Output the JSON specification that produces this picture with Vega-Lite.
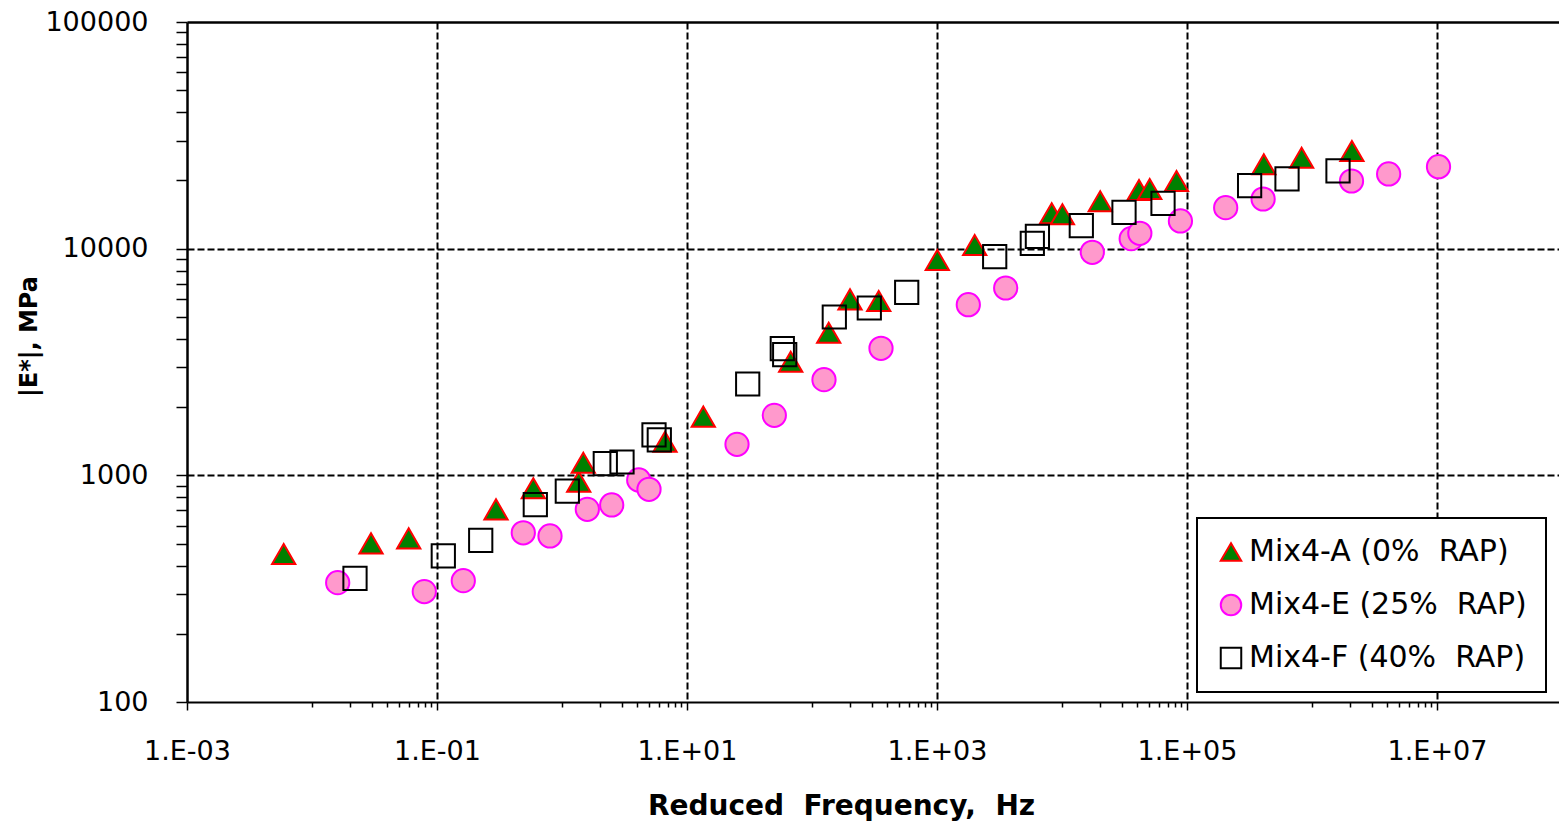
{
  "$schema": "https://vega.github.io/schema/vega-lite/v6.json",
  "autosize": {"type": "none"},
  "padding": {"left": 187, "top": 22, "right": 0, "bottom": 121},
  "width": 1372,
  "height": 680,
  "background": "white",
  "config": {
    "view": {"stroke": null},
    "legend": {
      "orient": "none",
      "legendX": 1010,
      "legendY": 496,
      "labelFont": "DejaVu Sans",
      "labelFontSize": 30,
      "labelColor": "black",
      "labelOffset": 3,
      "labelLimit": 400,
      "strokeColor": "black",
      "strokeWidth": 2,
      "fillColor": "white",
      "padding": 19,
      "rowPadding": 23,
      "symbolSize": 420,
      "symbolStrokeWidth": 2
    }
  },
  "data": {
    "values": [
      {"mix": "Mix4-A (0% RAP)", "f": 0.005937, "E": 450},
      {"mix": "Mix4-A (0% RAP)", "f": 0.02965, "E": 501},
      {"mix": "Mix4-A (0% RAP)", "f": 0.05937, "E": 527},
      {"mix": "Mix4-A (0% RAP)", "f": 0.2965, "E": 708},
      {"mix": "Mix4-A (0% RAP)", "f": 0.5895, "E": 877},
      {"mix": "Mix4-A (0% RAP)", "f": 1.36, "E": 937},
      {"mix": "Mix4-A (0% RAP)", "f": 1.48, "E": 1137},
      {"mix": "Mix4-A (0% RAP)", "f": 6.668, "E": 1407},
      {"mix": "Mix4-A (0% RAP)", "f": 13.5, "E": 1815},
      {"mix": "Mix4-A (0% RAP)", "f": 67.53, "E": 3172},
      {"mix": "Mix4-A (0% RAP)", "f": 136.0, "E": 4259},
      {"mix": "Mix4-A (0% RAP)", "f": 201.4, "E": 5978},
      {"mix": "Mix4-A (0% RAP)", "f": 341.7, "E": 5876},
      {"mix": "Mix4-A (0% RAP)", "f": 1005.5, "E": 8913},
      {"mix": "Mix4-A (0% RAP)", "f": 2002, "E": 10380},
      {"mix": "Mix4-A (0% RAP)", "f": 8272, "E": 14322},
      {"mix": "Mix4-A (0% RAP)", "f": 10074, "E": 14177},
      {"mix": "Mix4-A (0% RAP)", "f": 20214, "E": 16181},
      {"mix": "Mix4-A (0% RAP)", "f": 41305, "E": 18151},
      {"mix": "Mix4-A (0% RAP)", "f": 50303, "E": 18336},
      {"mix": "Mix4-A (0% RAP)", "f": 82414, "E": 19886},
      {"mix": "Mix4-A (0% RAP)", "f": 411571, "E": 23564},
      {"mix": "Mix4-A (0% RAP)", "f": 825700, "E": 25192},
      {"mix": "Mix4-A (0% RAP)", "f": 2085000, "E": 26972},
      {"mix": "Mix4-E (25% RAP)", "f": 0.01605, "E": 336},
      {"mix": "Mix4-E (25% RAP)", "f": 0.07913, "E": 307},
      {"mix": "Mix4-E (25% RAP)", "f": 0.1623, "E": 343},
      {"mix": "Mix4-E (25% RAP)", "f": 0.4901, "E": 558},
      {"mix": "Mix4-E (25% RAP)", "f": 0.8017, "E": 540},
      {"mix": "Mix4-E (25% RAP)", "f": 1.594, "E": 708},
      {"mix": "Mix4-E (25% RAP)", "f": 2.498, "E": 740},
      {"mix": "Mix4-E (25% RAP)", "f": 4.109, "E": 954},
      {"mix": "Mix4-E (25% RAP)", "f": 4.966, "E": 868},
      {"mix": "Mix4-E (25% RAP)", "f": 25.12, "E": 1370},
      {"mix": "Mix4-E (25% RAP)", "f": 49.94, "E": 1840},
      {"mix": "Mix4-E (25% RAP)", "f": 124.7, "E": 2642},
      {"mix": "Mix4-E (25% RAP)", "f": 356.4, "E": 3635},
      {"mix": "Mix4-E (25% RAP)", "f": 1780, "E": 5658},
      {"mix": "Mix4-E (25% RAP)", "f": 3544, "E": 6706},
      {"mix": "Mix4-E (25% RAP)", "f": 17474, "E": 9638},
      {"mix": "Mix4-E (25% RAP)", "f": 35769, "E": 11066},
      {"mix": "Mix4-E (25% RAP)", "f": 41935, "E": 11690},
      {"mix": "Mix4-E (25% RAP)", "f": 88563, "E": 13247},
      {"mix": "Mix4-E (25% RAP)", "f": 203900, "E": 15161},
      {"mix": "Mix4-E (25% RAP)", "f": 406300, "E": 16562},
      {"mix": "Mix4-E (25% RAP)", "f": 2070000, "E": 19886},
      {"mix": "Mix4-E (25% RAP)", "f": 4102000, "E": 21354},
      {"mix": "Mix4-E (25% RAP)", "f": 10280000, "E": 22992},
      {"mix": "Mix4-F (40% RAP)", "f": 0.02208, "E": 351},
      {"mix": "Mix4-F (40% RAP)", "f": 0.1123, "E": 441},
      {"mix": "Mix4-F (40% RAP)", "f": 0.2237, "E": 517},
      {"mix": "Mix4-F (40% RAP)", "f": 0.6116, "E": 742},
      {"mix": "Mix4-F (40% RAP)", "f": 1.103, "E": 851},
      {"mix": "Mix4-F (40% RAP)", "f": 2.22, "E": 1125},
      {"mix": "Mix4-F (40% RAP)", "f": 3.02, "E": 1145},
      {"mix": "Mix4-F (40% RAP)", "f": 5.445, "E": 1507},
      {"mix": "Mix4-F (40% RAP)", "f": 6.003, "E": 1432},
      {"mix": "Mix4-F (40% RAP)", "f": 30.59, "E": 2529},
      {"mix": "Mix4-F (40% RAP)", "f": 57.86, "E": 3621},
      {"mix": "Mix4-F (40% RAP)", "f": 60.47, "E": 3405},
      {"mix": "Mix4-F (40% RAP)", "f": 150.8, "E": 4995},
      {"mix": "Mix4-F (40% RAP)", "f": 287.3, "E": 5473},
      {"mix": "Mix4-F (40% RAP)", "f": 572.2, "E": 6419},
      {"mix": "Mix4-F (40% RAP)", "f": 2894, "E": 9218},
      {"mix": "Mix4-F (40% RAP)", "f": 5786, "E": 10561},
      {"mix": "Mix4-F (40% RAP)", "f": 6356, "E": 11317},
      {"mix": "Mix4-F (40% RAP)", "f": 14269, "E": 12628},
      {"mix": "Mix4-F (40% RAP)", "f": 31333, "E": 14472},
      {"mix": "Mix4-F (40% RAP)", "f": 64270, "E": 15857},
      {"mix": "Mix4-F (40% RAP)", "f": 316800, "E": 18960},
      {"mix": "Mix4-F (40% RAP)", "f": 631000, "E": 20297},
      {"mix": "Mix4-F (40% RAP)", "f": 1614000, "E": 22014}
    ]
  },
  "mark": {"type": "point", "size": 540, "strokeWidth": 2, "opacity": 1},
  "encoding": {
    "x": {
      "field": "f",
      "type": "quantitative",
      "scale": {"type": "log", "domain": [0.001, 94600000], "nice": false},
      "axis": {
        "values": [0.001, 0.01, 0.02, 0.03, 0.04, 0.05, 0.06, 0.07, 0.08, 0.09, 0.1, 1, 2, 3, 4, 5, 6, 7, 8, 9, 10, 100, 200, 300, 400, 500, 600, 700, 800, 900, 1000, 10000, 20000, 30000, 40000, 50000, 60000, 70000, 80000, 90000, 100000, 1000000, 2000000, 3000000, 4000000, 5000000, 6000000, 7000000, 8000000, 9000000, 10000000],
        "labelExpr": "(abs(log(datum.value)/LN10 - round(log(datum.value)/LN10)) < 0.001 && abs(round(log(datum.value)/LN10)) % 2 == 1) ? '1.E' + (datum.value < 1 ? '-' : '+') + '0' + abs(round(log(datum.value)/LN10)) : ''",
        "grid": true,
        "gridColor": "black",
        "gridDash": [7, 3],
        "gridWidth": 2,
        "gridOpacity": {"condition": {"test": "abs(log(datum.value)/LN10 - round(log(datum.value)/LN10)) < 0.001 && abs(round(log(datum.value)/LN10)) % 2 == 1 && datum.value > 0.002", "value": 1}, "value": 0},
        "tickSize": {"condition": {"test": "abs(log(datum.value)/LN10 - round(log(datum.value)/LN10)) < 0.001 && abs(round(log(datum.value)/LN10)) % 2 == 1", "value": 8}, "value": 5},
        "tickColor": "black",
        "tickWidth": 1.5,
        "domainColor": "black",
        "domainWidth": 2,
        "labelFont": "DejaVu Sans",
        "labelFontSize": 27,
        "labelColor": "black",
        "labelPadding": 28,
        "labelOverlap": false,
        "labelFlush": false,
        "title": "Reduced\u00a0 Frequency,\u00a0 Hz",
        "titleFont": "DejaVu Sans",
        "titleFontWeight": "bold",
        "titleFontSize": 28,
        "titleColor": "black",
        "titleX": 654,
        "titleY": 104,
        "titleBaseline": "middle"
      }
    },
    "y": {
      "field": "E",
      "type": "quantitative",
      "scale": {"type": "log", "domain": [100, 100000], "nice": false},
      "axis": {
        "values": [100, 200, 300, 400, 500, 600, 700, 800, 900, 1000, 2000, 3000, 4000, 5000, 6000, 7000, 8000, 9000, 10000, 20000, 30000, 40000, 50000, 60000, 70000, 80000, 90000, 100000],
        "labelExpr": "abs(log(datum.value)/LN10 - round(log(datum.value)/LN10)) < 0.001 ? format(datum.value, 'd') : ''",
        "grid": true,
        "gridColor": "black",
        "gridDash": {"condition": {"test": "datum.value > 99000", "value": []}, "value": [7, 3]},
        "gridWidth": {"condition": {"test": "datum.value > 99000", "value": 2.5}, "value": 2},
        "gridOpacity": {"condition": {"test": "abs(log(datum.value)/LN10 - round(log(datum.value)/LN10)) < 0.001 && datum.value > 150", "value": 1}, "value": 0},
        "tickSize": 11,
        "tickColor": "black",
        "tickWidth": 1.5,
        "domainColor": "black",
        "domainWidth": 2.5,
        "labelFont": "DejaVu Sans",
        "labelFontSize": 27,
        "labelColor": "black",
        "labelPadding": 28,
        "labelOverlap": false,
        "labelFlush": false,
        "title": "|E*|, MPa",
        "titleFont": "DejaVu Sans",
        "titleFontWeight": "bold",
        "titleFontSize": 24,
        "titleColor": "black",
        "titleX": -158,
        "titleY": 314,
        "titleBaseline": "middle",
        "titleAngle": -90
      }
    },
    "shape": {
      "field": "mix",
      "type": "nominal",
      "scale": {"domain": ["Mix4-A (0% RAP)", "Mix4-E (25% RAP)", "Mix4-F (40% RAP)"], "range": ["triangle-up", "circle", "square"]},
      "legend": {"title": null, "labelExpr": "replace(datum.label, ' RAP', '\u00a0 RAP')"}
    },
    "fill": {
      "field": "mix",
      "type": "nominal",
      "scale": {"domain": ["Mix4-A (0% RAP)", "Mix4-E (25% RAP)", "Mix4-F (40% RAP)"], "range": ["#008000", "#FF99CC", "transparent"]},
      "legend": {"title": null, "labelExpr": "replace(datum.label, ' RAP', '\u00a0 RAP')"}
    },
    "stroke": {
      "field": "mix",
      "type": "nominal",
      "scale": {"domain": ["Mix4-A (0% RAP)", "Mix4-E (25% RAP)", "Mix4-F (40% RAP)"], "range": ["#FF0000", "#FF00FF", "#000000"]},
      "legend": {"title": null, "labelExpr": "replace(datum.label, ' RAP', '\u00a0 RAP')"}
    }
  }
}
